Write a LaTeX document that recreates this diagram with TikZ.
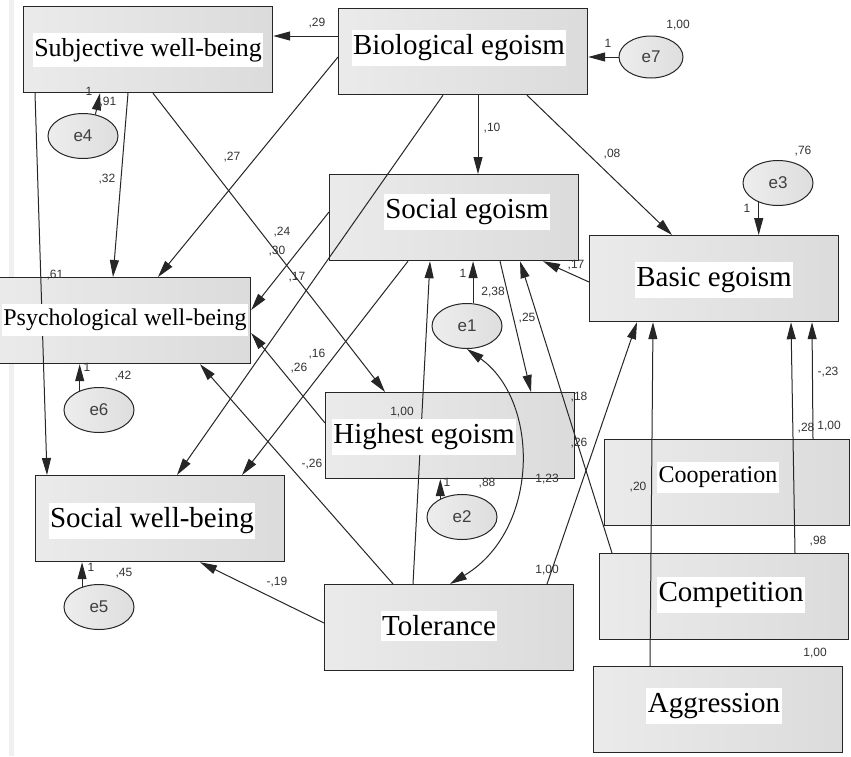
\documentclass[tikz,border=0pt]{standalone}
\usepackage{fontspec}
\setmainfont{Liberation Serif}
\setsansfont{Liberation Sans}
\usetikzlibrary{arrows.meta,shapes.geometric,calc}

\begin{document}
\begin{tikzpicture}[x=1pt,y=-1pt,
  >={Triangle[length=17pt,width=9pt]},
  box/.style={draw=black!85,line width=1.2pt,left color=black!8,right color=black!14,
    minimum width=249,minimum height=86,anchor=north west,inner sep=0},
  boxtext/.style={fill=white,inner xsep=1.5pt,inner ysep=5pt,font=\fontsize{29}{32}\selectfont},
  err/.style={ellipse,draw=black!85,line width=1pt,left color=black!7,right color=black!13,
    minimum width=70,minimum height=45,inner sep=0,text=black!75,font=\sffamily\fontsize{17}{18}\selectfont},
  link/.style={->,draw=black!85,line width=1pt},
  num/.style={inner sep=0,text=black!80,font=\sffamily\fontsize{12}{13}\selectfont}]
\useasboundingbox (0,0) rectangle (851,756);
\clip (0,0) rectangle (851,756);
\fill[white] (0,0) rectangle (851,756);
\fill[black!6] (9,0) rectangle (14,756);

% boxes
\node[box] (swb) at (23,6) {};
\node[box] (bio) at (338,8) {};
\node[box] (soc) at (329,174) {};
\node[box] (bas) at (589,235) {};
\node[box,minimum width=253] (pwb) at (-3,277) {};
\node[box] (hig) at (325,392) {};
\node[box] (sowb) at (35,475) {};
\node[box] (tol) at (324,584) {};
\node[box,minimum width=245] (coop) at (604,439) {};
\node[box] (comp) at (599,553) {};
\node[box] (aggr) at (593,666) {};

% error terms
\node[err,minimum width=64,minimum height=42] (e7) at (651,57) {e7};
\node[err] (e4) at (83,136) {e4};
\node[err] (e3) at (778,183) {e3};
\node[err] (e1) at (467,326) {e1};
\node[err] (e6) at (99,410) {e6};
\node[err] (e2) at (462,517) {e2};
\node[err] (e5) at (99,607) {e5};

\draw[link] (e7.west) -- (e7.west -| bio.east);
\draw[link] (e4.60) -- ($(swb.south west)+(77,0)$);
\draw[link] (e3.225) -- (e3.225 |- bas.north);
\draw[link] (e1.75) -- (e1.75 |- soc.south);
\draw[link] (e6.135) -- (e6.135 |- pwb.south);
\draw[link] (e2.140) -- (e2.140 |- hig.south);
\draw[link] (e5.130) -- (e5.130 |- sowb.south);

% paths
\draw[link] ($(bio.north west)+(0,28)$) -- ($(swb.north east)+(0,30)$);
\draw[link] ($(bio.north west)+(0,49)$) -- ($(pwb.north west)+(161,0)$);
\draw[link] ($(bio.south west)+(105,0)$) -- ($(sowb.north west)+(142,0)$);
\draw[link] ($(bio.south west)+(140,0)$) -- ($(soc.north west)+(149,0)$);
\draw[link] ($(bio.south west)+(189,0)$) -- ($(bas.north west)+(83,0)$);
\draw[link] ($(swb.south west)+(105,0)$) -- ($(pwb.north west)+(116,0)$);
\draw[link] ($(swb.south west)+(12,0)$) -- ($(sowb.north west)+(12,0)$);
\draw[link] ($(swb.south west)+(130,0)$) -- ($(hig.north west)+(60,0)$);
\draw[link] ($(soc.north west)+(0,38)$) -- ($(pwb.north east)+(0,33)$);
\draw[link] ($(soc.south west)+(79,0)$) -- ($(sowb.north west)+(207,0)$);
\draw[link] ($(soc.south west)+(171,0)$) -- ($(hig.north west)+(206,0)$);
\draw[link] ($(hig.north west)+(0,31)$) -- ($(pwb.north east)+(0,56)$);
\draw[link] ($(tol.north west)+(69,0)$) -- ($(pwb.south west)+(203,0)$);
\draw[link] ($(tol.north west)+(0,39)$) -- ($(sowb.south west)+(165,0)$);
\draw[link] ($(tol.north west)+(89,0)$) -- ($(soc.south west)+(101,0)$);
\draw[link] ($(tol.north west)+(223,0)$) -- ($(bas.south west)+(48,0)$);
\draw[link,<->] ($(tol.north west)+(126,0)$) .. controls +(90,-54) and +(73,52) .. (e1.south);
\draw[link] ($(comp.north west)+(13,0)$) -- ($(soc.south west)+(191,0)$);
\draw[link] ($(bas.north west)+(0,47)$) -- ($(soc.south west)+(214,0)$);
\draw[link] ($(aggr.north west)+(57,0)$) -- ($(bas.south west)+(64,0)$);
\draw[link] ($(comp.north west)+(196,0)$) -- ($(bas.south west)+(202,0)$);
\draw[link] ($(coop.north west)+(209,0)$) -- ($(bas.south west)+(223,0)$);

% box texts
\node[boxtext,font=\fontsize{26}{29}\selectfont] (swbL) at (148,50) {Subjective well-being};
\node[boxtext] (bioL) at (459,48) {Biological egoism};
\node[boxtext] (socL) at (467,212) {Social egoism};
\node[boxtext] (basL) at (714,280) {Basic egoism};
\node[boxtext,font=\fontsize{24}{27}\selectfont] (pwbL) at (125,320) {Psychological well-being};
\node[boxtext] (higL) at (424,437) {Highest egoism};
\node[boxtext] (sowbL) at (152,521) {Social well-being};
\node[boxtext] (tolL) at (439,626) {Tolerance};
\node[boxtext,font=\fontsize{24}{27}\selectfont] (coopL) at (718,477) {Cooperation};
\node[boxtext] (compL) at (731,595) {Competition};
\node[boxtext] (aggrL) at (714,706) {Aggression};

% estimates
\foreach \x/\y/\t [count=\i] in {317/23/{,29}, 608/43/1, 678/25/{1,00}, 492/128/{,10},
  612/154/{,08}, 803/151/{,76}, 747/208/1, 232/157/{,27}, 107/179/{,32}, 89/91/1,
  108/102/{,91}, 282/232/{,24}, 277/251/{,30}, 297/277/{,17}, 55/275/{,61}, 87/367/1,
  123/376/{,42}, 299/368/{,26}, 317/354/{,16}, 463/273/1, 493/292/{2,38}, 527/318/{,25},
  576/265/{,17}, 579/397/{,18}, 579/443/{,26}, 402/412/{1,00}, 312/464/{-,26}, 447/482/1,
  487/483/{,88}, 547/479/{1,23}, 828/372/{-,23}, 806/428/{,28}, 829/426/{1,00}, 638/487/{,20},
  91/567/1, 124/573/{,45}, 277/582/{-,19}, 547/570/{1,00}, 818/541/{,98}, 815/653/{1,00}}
  \node[num] (n\i) at (\x,\y) {\t};
\end{tikzpicture}
\end{document}
